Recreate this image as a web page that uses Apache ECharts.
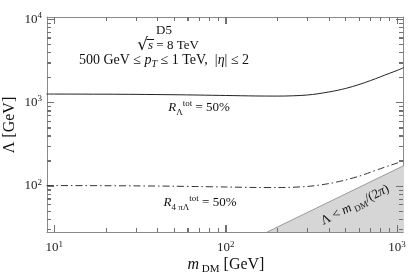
<!DOCTYPE html>
<html><head><meta charset="utf-8">
<script src="https://cdn.jsdelivr.net/npm/echarts@6/dist/echarts.min.js"></script>
<style>html,body{margin:0;padding:0;background:#fff}#c{width:409px;height:276px}</style>
</head><body><div id="c"></div>
<script>
// ---- data ----
const massGeV    = [9, 10, 20, 30, 50, 70, 100, 150, 200, 300, 400, 500, 600, 700, 800, 900, 1000, 1090];
const lambdaR    = [1262, 1261, 1256, 1250, 1238, 1226, 1212, 1196, 1192, 1228, 1335, 1470, 1640, 1830, 2030, 2230, 2420, 2610];
const lambdaR4pi = [100.5, 100.4, 100, 99.5, 98.6, 97.6, 96.5, 95.2, 95, 98, 106, 117, 130, 145, 160, 174, 187, 200];
const excludedMass   = [174.7, 1100];
const excludedLambda = [27.8, 175];
const xMajorTicks = [10, 100, 1000];
const xMinorTicks = [20, 30, 40, 50, 60, 70, 80, 90, 200, 300, 400, 500, 600, 700, 800, 900];
const yMajorTicks = [100, 1000, 10000];
const yMinorTicks = [30, 40, 50, 60, 70, 80, 90, 200, 300, 400, 500, 600, 700, 800, 900, 2000, 3000, 4000, 5000, 6000, 7000, 8000, 9000];
const xRange = [9.06, 1084];
const yRange = [27.8, 10620];

const SERIF = '"Liberation Serif", "DejaVu Serif", serif';
const FRAME = '#8a8a8a';
const TICK = '#707070';
const MAJOR_LEN = 7, MINOR_LEN = 4;

function pair(xs, ys) { return xs.map((x, i) => [x, ys[i]]); }
function powLabel(v) { return '{b|10}{s|' + Math.round(Math.log10(v)) + '}'; }
const labelRich = {
  b: { fontFamily: SERIF, fontSize: 13, color: '#222', lineHeight: 16 },
  s: { fontFamily: SERIF, fontSize: 9, color: '#222', lineHeight: 8, verticalAlign: 'top' }
};

function makeAxis(dim, position, frame, withLabels, ticks, len) {
  const range = dim === 'x' ? xRange : yRange;
  const major = dim === 'x' ? xMajorTicks : yMajorTicks;
  return {
    type: 'log', position: position, min: range[0], max: range[1],
    axisLine: { show: frame, lineStyle: { color: FRAME, width: 1 } },
    axisTick: { show: true, inside: true, length: len, customValues: ticks, lineStyle: { color: TICK, width: 1 } },
    axisLabel: withLabels ? { show: true, customValues: major, formatter: powLabel, rich: labelRich, margin: dim === 'x' ? 8 : 5 } : { show: false },
    splitLine: { show: false }, minorTick: { show: false }
  };
}

// text measurement for the square-root overline
const mctx = document.createElement('canvas').getContext('2d');
function tw(font, s) { mctx.font = font; return mctx.measureText(s).width; }

const chart = echarts.init(document.getElementById('c'), null, { renderer: 'canvas' });

const richText = {
  n:   { fontFamily: SERIF, fontSize: 13, fill: '#111', lineHeight: 18 },
  it:  { fontFamily: SERIF, fontSize: 13, fontStyle: 'italic', fill: '#111', lineHeight: 18 },
  n14: { fontFamily: SERIF, fontSize: 14, fill: '#111', lineHeight: 18 },
  it14:{ fontFamily: SERIF, fontSize: 14, fontStyle: 'italic', fill: '#111', lineHeight: 18 },
  sub: { fontFamily: SERIF, fontSize: 9, fill: '#111', lineHeight: 10, verticalAlign: 'bottom' },
  subit: { fontFamily: SERIF, fontSize: 10, fontStyle: 'italic', fill: '#111', lineHeight: 10, verticalAlign: 'bottom' },
  sup: { fontFamily: SERIF, fontSize: 9, fill: '#111', lineHeight: 8, verticalAlign: 'top' },
  sq:  { fontFamily: '"DejaVu Serif", serif', fontSize: 17, fill: '#111', lineHeight: 18 }
};
function txt(text, x, y, extra, align) {
  return Object.assign({
    type: 'text', x: x, y: y, z: 100,
    style: { text: text, rich: richText, align: align || 'center', verticalAlign: 'middle', fill: '#111', font: '13px ' + SERIF }
  }, extra || {});
}
const titleRich = {
  n:   { fontFamily: SERIF, fontSize: 16, fill: '#111', lineHeight: 20 },
  it:  { fontFamily: SERIF, fontSize: 16, fontStyle: 'italic', fill: '#111', lineHeight: 20 },
  sub: { fontFamily: SERIF, fontSize: 11, fill: '#111', lineHeight: 12, verticalAlign: 'bottom' }
};

// line 2 geometry ("√s = 8 TeV", centred at x=168)
const wSq = tw('17px "DejaVu Serif"', '√');
const wS = tw('italic 13px "Liberation Serif"', 's');
const wRest = tw('13px "Liberation Serif"', ' = 8 TeV');
const l2x = 168 - (wSq + wS + wRest) / 2;

chart.setOption({
  animation: false,
  backgroundColor: '#fff',
  grid: { left: 47, right: 6, top: 17, bottom: 44, containLabel: false },
  xAxis: [
    makeAxis('x', 'bottom', true, true, xMajorTicks, MAJOR_LEN),
    makeAxis('x', 'bottom', false, false, xMinorTicks, MINOR_LEN),
    makeAxis('x', 'top', true, false, xMajorTicks, MAJOR_LEN),
    makeAxis('x', 'top', false, false, xMinorTicks, MINOR_LEN)
  ],
  yAxis: [
    makeAxis('y', 'left', true, true, yMajorTicks, MAJOR_LEN),
    makeAxis('y', 'left', false, false, yMinorTicks, MINOR_LEN),
    makeAxis('y', 'right', true, false, yMajorTicks, MAJOR_LEN),
    makeAxis('y', 'right', false, false, yMinorTicks, MINOR_LEN)
  ],
  series: [
    {
      type: 'line', data: pair(excludedMass, excludedLambda), symbol: 'none', clip: true,
      lineStyle: { color: '#9a9a9a', width: 1 },
      areaStyle: { color: '#d6d6d6', opacity: 1, origin: 'start' }, z: 1
    },
    {
      type: 'line', data: pair(massGeV, lambdaR), symbol: 'none', smooth: 0.3, clip: true,
      lineStyle: { color: '#222', width: 1 }, z: 3
    },
    {
      type: 'line', data: pair(massGeV, lambdaR4pi), symbol: 'none', smooth: 0.3, clip: true,
      lineStyle: { color: '#333', width: 1, type: [7, 3, 1.5, 3] }, z: 3
    }
  ]
});

// tick marks as thin filled rects, positioned through the chart's own axis scales
function px(x, y) { return chart.convertToPixel({ xAxisIndex: 0, yAxisIndex: 0 }, [x, y]); }
function tickRect(x, y, w, h) {
  return { type: 'rect', shape: { x: x, y: y, width: w, height: h }, style: { fill: TICK }, z: 60 };
}
const tickGraphics = [];
[[xMajorTicks, MAJOR_LEN], [xMinorTicks, MINOR_LEN]].forEach(([vals, len]) => vals.forEach(v => {
  const b = px(v, yRange[0]), t = px(v, yRange[1]);
  const x = Math.round(b[0]);
  tickGraphics.push(tickRect(x, Math.round(b[1]) - len, 1, len), tickRect(x, Math.round(t[1]), 1, len));
}));
[[yMajorTicks, MAJOR_LEN], [yMinorTicks, MINOR_LEN]].forEach(([vals, len]) => vals.forEach(v => {
  const l = px(xRange[0], v), r = px(xRange[1], v);
  const y = Math.round(l[1]);
  tickGraphics.push(tickRect(Math.round(l[0]), y, len, 1), tickRect(Math.round(r[0]) - len, y, len, 1));
}));

chart.setOption({
  graphic: tickGraphics.concat([
    txt('{n|D5}', 164, 31),
    txt('{sq|√}{it|s}{n| = 8 TeV}', l2x, 46, null, 'left'),
    { type: 'line', z: 100, shape: { x1: l2x + wSq - 1.5, y1: 39.5, x2: l2x + wSq + wS + 1, y2: 39.5 }, style: { stroke: '#111', lineWidth: 1 } },
    txt('{n14|500 GeV ≤ }{it14|p}{subit|T}{n14| ≤ 1 TeV,  |}{it14|η}{n14|| ≤ 2}', 164, 60),
    txt('{it|R}{sub|Λ}{sup|tot}{n| = 50%}', 199, 108),
    txt('{it|R}{sub|4 πΛ}{sup|tot}{n| = 50%}', 200, 203),
    txt('{n|Λ < }{it|m}{sub| DM}{n|/(2}{it|π}{n|)}', 355, 205, { rotation: 0.47 }),
    { type: 'text', x: 10, y: 125, rotation: Math.PI / 2, z: 100,
      style: { text: '{n|Λ [GeV]}', rich: titleRich, align: 'center', verticalAlign: 'middle' } },
    { type: 'text', x: 226, y: 265, z: 100,
      style: { text: '{it|m}{sub| DM}{n| [GeV]}', rich: titleRich, align: 'center', verticalAlign: 'middle' } }
  ])
});
</script></body></html>
